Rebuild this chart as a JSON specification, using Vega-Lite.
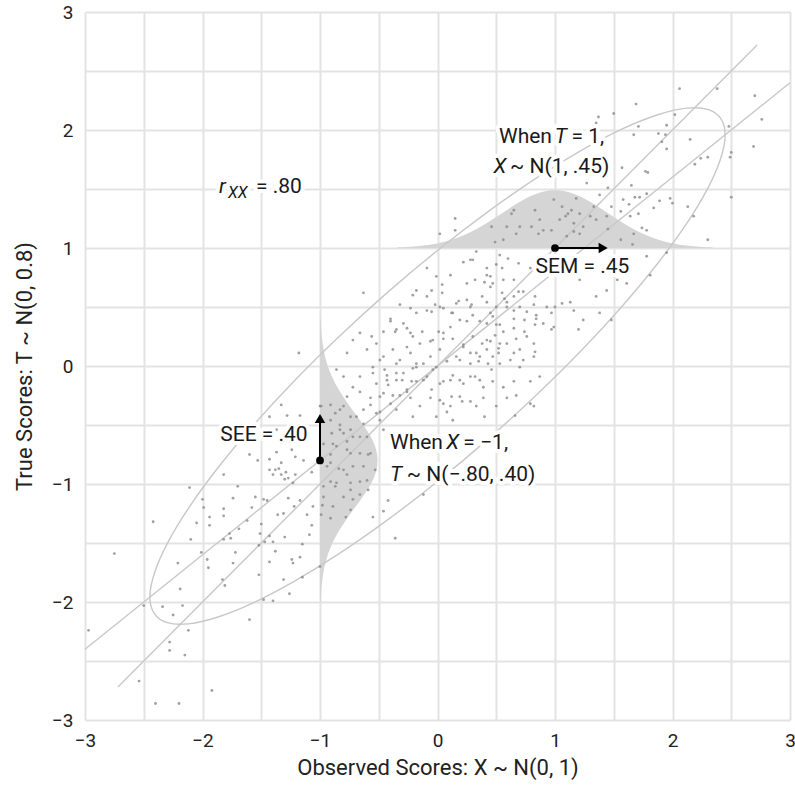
{
"$schema": "https://vega.github.io/schema/vega-lite/v6.json",
"width": 705, "height": 708,
"autosize": {"type": "none"},
"padding": {"left": 85, "top": 12, "right": 5, "bottom": 65},
"config": {
  "view": {"stroke": null},
  "font": "Roboto",
  "axis": {"domain": false, "ticks": false, "gridColor": "#e3e3e3", "gridWidth": 2, "labelFontSize": 19, "titleFontSize": 22, "labelColor": "#222", "titleColor": "#222", "labelFont": "Roboto", "titleFont": "Roboto", "titleFontWeight": "normal"}
},
"datasets": {
  "hcurve": [{"x":-0.341,"t":1.0054},{"x":-0.229,"t":1.0112},{"x":-0.118,"t":1.0215},{"x":-0.006,"t":1.039},{"x":0.106,"t":1.0663},{"x":0.218,"t":1.106},{"x":0.329,"t":1.1591},{"x":0.441,"t":1.2243},{"x":0.553,"t":1.2972},{"x":0.665,"t":1.3699},{"x":0.776,"t":1.4324},{"x":0.888,"t":1.4749},{"x":1.0,"t":1.49},{"x":1.112,"t":1.4749},{"x":1.224,"t":1.4324},{"x":1.335,"t":1.3699},{"x":1.447,"t":1.2972},{"x":1.559,"t":1.2243},{"x":1.671,"t":1.1591},{"x":1.782,"t":1.106},{"x":1.894,"t":1.0663},{"x":2.006,"t":1.039},{"x":2.118,"t":1.0215},{"x":2.229,"t":1.0112},{"x":2.341,"t":1.0054}],
  "vcurve": [{"t":-2.0,"x":-0.9946},{"t":-1.9,"x":-0.9888},{"t":-1.8,"x":-0.9785},{"t":-1.7,"x":-0.961},{"t":-1.6,"x":-0.9337},{"t":-1.5,"x":-0.894},{"t":-1.4,"x":-0.8409},{"t":-1.3,"x":-0.7757},{"t":-1.2,"x":-0.7028},{"t":-1.1,"x":-0.6301},{"t":-1.0,"x":-0.5676},{"t":-0.9,"x":-0.5251},{"t":-0.8,"x":-0.51},{"t":-0.7,"x":-0.5251},{"t":-0.6,"x":-0.5676},{"t":-0.5,"x":-0.6301},{"t":-0.4,"x":-0.7028},{"t":-0.3,"x":-0.7757},{"t":-0.2,"x":-0.8409},{"t":-0.1,"x":-0.894},{"t":0.0,"x":-0.9337},{"t":0.1,"x":-0.961},{"t":0.2,"x":-0.9785},{"t":0.3,"x":-0.9888},{"t":0.4,"x":-0.9946}],
  "lines": [{"line":"a","x":-3,"t":-2.4},{"line":"a","x":3,"t":2.4},{"line":"b","x":-2.72,"t":-2.72},{"line":"b","x":2.72,"t":2.72}],
  "ellipse": [{"i":0,"x":2.448,"t":1.958},{"i":1,"x":2.41,"t":2.098},{"i":2,"x":2.3,"t":2.175},{"i":3,"x":2.12,"t":2.185},{"i":4,"x":1.875,"t":2.129},{"i":5,"x":1.573,"t":2.009},{"i":6,"x":1.224,"t":1.827},{"i":7,"x":0.837,"t":1.59},{"i":8,"x":0.425,"t":1.304},{"i":9,"x":0,"t":0.979},{"i":10,"x":-0.425,"t":0.624},{"i":11,"x":-0.837,"t":0.25},{"i":12,"x":-1.224,"t":-0.131},{"i":13,"x":-1.573,"t":-0.509},{"i":14,"x":-1.875,"t":-0.871},{"i":15,"x":-2.12,"t":-1.206},{"i":16,"x":-2.3,"t":-1.505},{"i":17,"x":-2.41,"t":-1.758},{"i":18,"x":-2.448,"t":-1.958},{"i":19,"x":-2.41,"t":-2.098},{"i":20,"x":-2.3,"t":-2.175},{"i":21,"x":-2.12,"t":-2.185},{"i":22,"x":-1.875,"t":-2.129},{"i":23,"x":-1.573,"t":-2.009},{"i":24,"x":-1.224,"t":-1.827},{"i":25,"x":-0.837,"t":-1.59},{"i":26,"x":-0.425,"t":-1.304},{"i":27,"x":0,"t":-0.979},{"i":28,"x":0.425,"t":-0.624},{"i":29,"x":0.837,"t":-0.25},{"i":30,"x":1.224,"t":0.131},{"i":31,"x":1.573,"t":0.509},{"i":32,"x":1.875,"t":0.871},{"i":33,"x":2.12,"t":1.206},{"i":34,"x":2.3,"t":1.505},{"i":35,"x":2.41,"t":1.758}],
  "pts": [
{"x":-1.33,"t":-0.33},{"x":-1.28,"t":-0.42},{"x":-1.43,"t":-0.43},{"x":-1.17,"t":-0.42},{"x":-1.6,"t":-0.75},{"x":-1.53,"t":-0.8},{"x":-1.43,"t":-0.79},{"x":-1.37,"t":-0.73},{"x":-1.33,"t":-0.82},{"x":-1.24,"t":-0.71},{"x":-1.14,"t":-0.8},{"x":-1.21,"t":-0.77},{"x":-1.43,"t":-0.88},{"x":-1.38,"t":-0.88},{"x":-1.35,"t":-0.87},{"x":-1.29,"t":-0.9},{"x":-1.4,"t":-0.92},{"x":-1.33,"t":-0.92},{"x":-1.3,"t":-0.96},{"x":-1.21,"t":-0.92},{"x":-1.27,"t":-0.95},{"x":-2.11,"t":-1.03},{"x":-1.82,"t":-0.92},{"x":-1.7,"t":-1.02},{"x":-1.23,"t":-0.99},{"x":-1.07,"t":-0.9},{"x":-1.48,"t":-1.13},{"x":-1.45,"t":-1.14},{"x":-1.55,"t":-1.11},{"x":-1.74,"t":-1.12},{"x":-2.0,"t":-1.13},{"x":-1.99,"t":-1.2},{"x":-1.82,"t":-1.21},{"x":-1.58,"t":-1.2},{"x":-1.27,"t":-1.12},{"x":-1.22,"t":-1.19},{"x":-1.17,"t":-1.14},{"x":-1.06,"t":-1.19},{"x":-1.36,"t":-1.26},{"x":-1.31,"t":-1.25},{"x":-1.11,"t":-1.26},{"x":-1.62,"t":-1.31},{"x":-1.82,"t":-1.27},{"x":-2.42,"t":-1.32},{"x":-2.05,"t":-1.33},{"x":-1.94,"t":-1.35},{"x":-1.69,"t":-1.38},{"x":-1.5,"t":-1.34},{"x":-1.43,"t":-1.44},{"x":-1.3,"t":-1.45},{"x":-1.07,"t":-1.35},{"x":-1.09,"t":-1.43},{"x":-2.1,"t":-1.47},{"x":-1.76,"t":-1.46},{"x":-1.82,"t":-1.47},{"x":-1.52,"t":-1.52},{"x":-1.47,"t":-1.49},{"x":-1.15,"t":-1.51},{"x":-2.01,"t":-1.58},{"x":-1.72,"t":-1.58},{"x":-1.38,"t":-1.57},{"x":-1.43,"t":-1.66},{"x":-1.24,"t":-1.64},{"x":-1.23,"t":-1.67},{"x":-2.21,"t":-1.67},{"x":-1.95,"t":-1.71},{"x":-1.52,"t":-1.77},{"x":-1.15,"t":-1.79},{"x":-1.83,"t":-1.81},{"x":-1.81,"t":-1.86},{"x":-2.19,"t":-1.89},{"x":-1.31,"t":-1.81},{"x":-1.26,"t":-1.93},{"x":-1.48,"t":-1.98},{"x":-1.4,"t":-1.99},{"x":-2.34,"t":-2.04},{"x":-2.17,"t":-2.03},{"x":-2.25,"t":-2.11},{"x":-1.6,"t":-2.15},{"x":-2.12,"t":-2.24},{"x":-2.28,"t":-2.34},{"x":-2.5,"t":-2.03},{"x":-1.0,"t":-1.7},
{"x":-0.99,"t":-0.34},{"x":-0.91,"t":-0.33},{"x":-0.87,"t":-0.4},{"x":-0.8,"t":-0.34},{"x":-0.91,"t":-0.46},{"x":-0.83,"t":-0.5},{"x":-0.74,"t":-0.43},{"x":-0.63,"t":-0.37},{"x":-0.57,"t":-0.33},{"x":-0.9,"t":-0.57},{"x":-0.8,"t":-0.57},{"x":-0.97,"t":-0.66},{"x":-0.86,"t":-0.68},{"x":-0.77,"t":-0.64},{"x":-0.66,"t":-0.6},{"x":-0.91,"t":-0.75},{"x":-0.74,"t":-0.74},{"x":-0.59,"t":-0.75},{"x":-0.94,"t":-0.85},{"x":-0.84,"t":-0.87},{"x":-0.77,"t":-0.92},{"x":-0.63,"t":-0.85},{"x":-0.53,"t":-0.88},{"x":-0.91,"t":-0.98},{"x":-0.87,"t":-1.02},{"x":-0.74,"t":-0.99},{"x":-0.66,"t":-0.98},{"x":-0.59,"t":-1.05},{"x":-0.97,"t":-1.11},{"x":-0.8,"t":-1.11},{"x":-0.72,"t":-1.13},{"x":-0.98,"t":-1.18},{"x":-0.91,"t":-1.29},{"x":-0.78,"t":-1.28},{"x":-0.74,"t":-1.22},{"x":-0.99,"t":-1.26},{"x":-0.89,"t":-1.19},{"x":-0.66,"t":-1.09},
{"x":0.33,"t":0.97},{"x":0.53,"t":0.94},{"x":0.6,"t":0.91},{"x":0.5,"t":0.86},{"x":0.3,"t":0.9},{"x":0.22,"t":0.88},{"x":-0.09,"t":0.83},{"x":0.42,"t":0.83},{"x":0.69,"t":0.87},{"x":0.79,"t":0.83},{"x":0.45,"t":0.76},{"x":0.56,"t":0.73},{"x":0.65,"t":0.73},{"x":0.11,"t":0.77},{"x":-0.01,"t":0.76},{"x":0.32,"t":0.73},{"x":0.25,"t":0.7},{"x":0.47,"t":0.7},{"x":-0.18,"t":0.64},{"x":-0.09,"t":0.59},{"x":0.04,"t":0.62},{"x":0.16,"t":0.53},{"x":0.25,"t":0.56},{"x":0.29,"t":0.52},{"x":0.38,"t":0.59},{"x":0.42,"t":0.54},{"x":0.55,"t":0.62},{"x":0.59,"t":0.54},{"x":0.65,"t":0.59},{"x":0.7,"t":0.5},{"x":0.82,"t":0.52},{"x":-0.32,"t":0.52},{"x":-0.23,"t":0.49},{"x":-0.4,"t":0.4},{"x":-0.63,"t":0.62},{"x":-0.05,"t":0.46},{"x":0.05,"t":0.49},{"x":0.12,"t":0.45},{"x":0.19,"t":0.39},{"x":0.3,"t":0.43},{"x":0.36,"t":0.38},{"x":0.47,"t":0.42},{"x":0.53,"t":0.35},{"x":0.65,"t":0.4},{"x":0.74,"t":0.39},{"x":0.84,"t":0.4},{"x":-0.66,"t":0.28},{"x":-0.56,"t":0.25},{"x":-0.72,"t":0.22},{"x":-0.46,"t":0.29},{"x":-0.35,"t":0.31},{"x":-0.26,"t":0.32},{"x":-0.21,"t":0.25},{"x":-0.13,"t":0.29},{"x":-0.04,"t":0.22},{"x":0.05,"t":0.28},{"x":0.13,"t":0.23},{"x":0.22,"t":0.18},{"x":0.3,"t":0.25},{"x":0.42,"t":0.22},{"x":0.49,"t":0.26},{"x":0.59,"t":0.19},{"x":0.67,"t":0.23},{"x":0.82,"t":0.19},{"x":-0.77,"t":0.11},{"x":-0.6,"t":0.14},{"x":-0.49,"t":0.05},{"x":-0.38,"t":0.14},{"x":-0.32,"t":0.05},{"x":-0.23,"t":0.11},{"x":-0.18,"t":0.02},{"x":-0.06,"t":0.08},{"x":0.02,"t":0.14},{"x":0.08,"t":0.04},{"x":0.16,"t":0.08},{"x":0.28,"t":0.11},{"x":0.35,"t":0.04},{"x":0.42,"t":0.14},{"x":0.47,"t":0.08},{"x":0.53,"t":0.02},{"x":0.62,"t":0.05},{"x":0.7,"t":-0.01},{"x":0.82,"t":0.08},{"x":-0.86,"t":-0.03},{"x":-0.8,"t":-0.09},{"x":-0.72,"t":-0.18},{"x":-0.66,"t":-0.09},{"x":-0.55,"t":-0.06},{"x":-0.43,"t":-0.08},{"x":-0.35,"t":-0.12},{"x":-0.29,"t":-0.06},{"x":-0.18,"t":-0.13},{"x":-0.09,"t":-0.09},{"x":-0.05,"t":-0.2},{"x":0.05,"t":-0.13},{"x":0.13,"t":-0.08},{"x":0.22,"t":-0.15},{"x":0.32,"t":-0.09},{"x":0.39,"t":-0.18},{"x":0.47,"t":-0.13},{"x":0.56,"t":-0.18},{"x":0.65,"t":-0.13},{"x":0.79,"t":-0.13},{"x":0.87,"t":-0.09},{"x":-0.77,"t":-0.26},{"x":-0.66,"t":-0.22},{"x":-0.57,"t":-0.27},{"x":-0.46,"t":-0.23},{"x":-0.4,"t":-0.32},{"x":-0.32,"t":-0.25},{"x":-0.23,"t":-0.27},{"x":-0.15,"t":-0.34},{"x":0.02,"t":-0.29},{"x":0.11,"t":-0.34},{"x":0.19,"t":-0.26},{"x":0.28,"t":-0.3},{"x":0.39,"t":-0.27},{"x":0.5,"t":-0.34},{"x":0.59,"t":-0.27},{"x":0.67,"t":-0.25},{"x":0.82,"t":-0.34},{"x":-0.83,"t":-0.37},{"x":-0.52,"t":-0.4},{"x":0.08,"t":-0.39},{"x":0.4,"t":-0.43},{"x":-1.0,"t":-0.34},{"x":-0.63,"t":-0.49},{"x":-0.49,"t":-0.46},{"x":-0.83,"t":-0.54},{"x":-0.72,"t":-0.6},{"x":-0.6,"t":-0.6},{"x":-0.89,"t":-0.66},{"x":-0.77,"t":-0.71},{"x":-0.66,"t":-0.74},{"x":-0.57,"t":-0.74},{"x":-0.91,"t":-0.82},{"x":-0.8,"t":-0.88},{"x":-0.72,"t":-0.85},{"x":-0.6,"t":-0.97},{"x":-0.86,"t":-0.99},{"x":-0.74,"t":-1.05},{"x":-0.97,"t":-1.02},{"x":-0.46,"t":-0.54},
{"x":1.37,"t":2.11},{"x":1.35,"t":2.06},{"x":1.27,"t":1.55},{"x":1.38,"t":1.45},{"x":1.33,"t":1.35},{"x":1.21,"t":1.29},{"x":1.3,"t":1.27},{"x":1.35,"t":1.24},{"x":1.24,"t":1.18},{"x":1.16,"t":1.21},{"x":1.21,"t":1.12},{"x":1.11,"t":1.29},{"x":1.04,"t":1.24},{"x":1.16,"t":1.14},{"x":0.63,"t":1.29},{"x":0.7,"t":1.18},{"x":0.8,"t":1.18},{"x":0.87,"t":1.24},{"x":0.9,"t":1.15},{"x":0.86,"t":1.12},{"x":0.97,"t":1.15},{"x":1.09,"t":1.27},{"x":1.06,"t":1.35},{"x":0.99,"t":1.41},{"x":0.83,"t":1.32},{"x":0.67,"t":1.12},{"x":0.56,"t":1.07},{"x":0.49,"t":1.05},{"x":0.46,"t":1.18},{"x":1.14,"t":1.32},{"x":1.18,"t":1.42},{"x":1.1,"t":1.1},{"x":1.04,"t":0.81},{"x":1.13,"t":0.79},{"x":1.21,"t":0.73},{"x":1.3,"t":0.84},{"x":1.35,"t":0.59},{"x":1.44,"t":0.64},{"x":1.53,"t":0.73},{"x":1.61,"t":0.7},{"x":1.06,"t":0.53},{"x":1.16,"t":0.47},{"x":0.99,"t":0.33},{"x":1.24,"t":0.39},{"x":1.38,"t":0.45},{"x":0.93,"t":0.84},
{"x":2.06,"t":2.35},{"x":2.38,"t":2.35},{"x":2.7,"t":2.29},{"x":2.76,"t":2.09},{"x":1.69,"t":2.22},{"x":1.5,"t":2.14},{"x":2.02,"t":2.13},{"x":1.95,"t":2.04},{"x":1.71,"t":2.03},{"x":1.88,"t":1.97},{"x":1.67,"t":1.96},{"x":1.94,"t":1.96},{"x":1.91,"t":1.9},{"x":1.95,"t":1.84},{"x":2.15,"t":1.92},{"x":2.48,"t":2.03},{"x":2.69,"t":1.86},{"x":2.5,"t":1.81},{"x":2.49,"t":1.77},{"x":2.24,"t":1.76},{"x":2.3,"t":1.77},{"x":2.19,"t":1.71},{"x":1.57,"t":1.68},{"x":1.77,"t":1.65},{"x":1.79,"t":1.64},{"x":1.65,"t":1.53},{"x":1.45,"t":1.51},{"x":1.78,"t":1.46},{"x":1.68,"t":1.43},{"x":1.72,"t":1.43},{"x":1.58,"t":1.41},{"x":1.89,"t":1.4},{"x":1.98,"t":1.42},{"x":2.0,"t":1.38},{"x":1.63,"t":1.37},{"x":1.84,"t":1.34},{"x":2.13,"t":1.35},{"x":2.5,"t":1.43},{"x":1.48,"t":1.35},{"x":1.56,"t":1.31},{"x":1.44,"t":1.27},{"x":1.64,"t":1.27},{"x":1.71,"t":1.29},{"x":2.18,"t":1.27},{"x":1.45,"t":1.16},{"x":1.74,"t":1.17},{"x":1.78,"t":1.15},{"x":1.67,"t":1.12},{"x":1.56,"t":1.07},{"x":1.66,"t":1.03},{"x":2.3,"t":1.07},{"x":1.95,"t":0.96},
{"x":0.15,"t":1.25},{"x":0.02,"t":1.12},{"x":0.15,"t":1.15},{"x":0.59,"t":1.18},{"x":0.65,"t":1.32},{"x":-0.36,"t":-1.46},{"x":-0.46,"t":-1.23},{"x":-0.55,"t":-1.28},{"x":-0.42,"t":-1.14},{"x":-0.12,"t":-1.09},{"x":1.2,"t":0.31},{"x":1.78,"t":0.93},{"x":1.81,"t":0.77},{"x":1.48,"t":0.39},{"x":0.79,"t":-0.32},{"x":0.66,"t":-0.42},{"x":0.13,"t":-0.46},{"x":0.33,"t":-0.34},
{"x":-2.97,"t":-2.24},{"x":-2.75,"t":-1.59},{"x":-2.54,"t":-2.67},{"x":-2.4,"t":-2.86},{"x":-2.2,"t":-2.86},{"x":-1.92,"t":-2.75},{"x":-2.28,"t":-2.41},{"x":-2.15,"t":-2.45},{"x":-1.18,"t":0.11},
{"x":-0.21,"t":0.6},{"x":-0.05,"t":0.64},{"x":0.04,"t":0.69},{"x":0.28,"t":0.9},{"x":0.4,"t":0.71},{"x":0.42,"t":0.77},{"x":0.45,"t":0.67},{"x":0.55,"t":0.83},{"x":0.57,"t":0.57},{"x":0.69,"t":0.63},{"x":0.73,"t":0.63},{"x":0.83,"t":0.59},{"x":0.93,"t":0.5},{"x":1.0,"t":0.5},{"x":1.13,"t":0.54},{"x":0.97,"t":0.45},{"x":0.84,"t":0.43},{"x":0.76,"t":0.46},{"x":0.65,"t":0.47},{"x":0.59,"t":0.5},{"x":0.5,"t":0.5},{"x":0.45,"t":0.45},{"x":0.28,"t":0.5},{"x":0.18,"t":0.55},{"x":0.13,"t":0.45},{"x":0.02,"t":0.5},{"x":-0.02,"t":0.52},{"x":-0.09,"t":0.47},{"x":-0.18,"t":0.45},{"x":-0.29,"t":0.36},{"x":-0.4,"t":0.38},{"x":-0.36,"t":0.29},{"x":-0.23,"t":0.28},{"x":0.01,"t":0.29},{"x":0.11,"t":0.33},{"x":0.25,"t":0.38},{"x":0.42,"t":0.36},{"x":0.5,"t":0.35},{"x":0.56,"t":0.29},{"x":0.65,"t":0.32},{"x":0.74,"t":0.29},{"x":0.83,"t":0.35},{"x":0.9,"t":0.36},{"x":0.97,"t":0.31},{"x":-0.52,"t":0.19},{"x":-0.46,"t":0.08},{"x":-0.26,"t":0.16},{"x":-0.15,"t":0.19},{"x":-0.06,"t":0.21},{"x":0.05,"t":0.23},{"x":0.22,"t":0.16},{"x":0.38,"t":0.19},{"x":0.45,"t":0.21},{"x":0.52,"t":0.15},{"x":0.7,"t":0.14},{"x":0.76,"t":0.25},{"x":0.83,"t":0.12},{"x":-0.55,"t":-0.01},{"x":-0.45,"t":-0.03},{"x":-0.35,"t":0.02},{"x":-0.21,"t":-0.02},{"x":-0.12,"t":0.02},{"x":-0.01,"t":-0.01},{"x":0.28,"t":0.02},{"x":0.36,"t":0.08},{"x":0.43,"t":0.02},{"x":0.52,"t":0.11},{"x":-0.52,"t":-0.15},{"x":-0.42,"t":-0.16},{"x":-0.3,"t":-0.12},{"x":-0.22,"t":-0.13},{"x":0.02,"t":-0.15},{"x":0.11,"t":-0.12},{"x":0.19,"t":-0.12},{"x":0.28,"t":-0.09},{"x":0.36,"t":-0.12},{"x":0.46,"t":-0.03},{"x":-0.49,"t":-0.26},{"x":-0.38,"t":-0.25},{"x":-0.26,"t":-0.22},{"x":-0.06,"t":-0.27},{"x":0.05,"t":-0.32},{"x":0.12,"t":-0.26},{"x":0.21,"t":-0.3},{"x":-0.49,"t":-0.39},{"x":-0.35,"t":-0.37},{"x":-0.21,"t":-0.43},{"x":-0.01,"t":-0.43},
{"x":-1.37,"t":-0.54},{"x":-1.17,"t":-0.6},{"x":-1.31,"t":-0.63},{"x":-0.74,"t":-0.54},{"x":-0.69,"t":-0.43},{"x":-0.43,"t":-0.12},{"x":-0.35,"t":-0.06},{"x":-0.26,"t":-0.2},{"x":-0.18,"t":-0.01},{"x":-0.12,"t":-0.12},{"x":-0.04,"t":-0.03},{"x":0.19,"t":0.05},{"x":0.33,"t":0.11},{"x":0.53,"t":0.19},{"x":0.65,"t":0.11},{"x":0.73,"t":0.05},
{"x":-1.94,"t":-1.28},{"x":-1.77,"t":-1.42},{"x":-1.51,"t":-1.42},{"x":-1.4,"t":-1.49},{"x":-1.17,"t":-1.62},{"x":-1.74,"t":-1.67},{"x":-1.96,"t":-1.64}
  ],
  "arrowsH": [{"x":1,"x2":1.4,"t":1}],
  "arrowsV": [{"x":-1,"t":-0.8,"t2":-0.44}],
  "headR": [{"x":1.41,"t":1}],
  "headU": [{"x":-1,"t":-0.445}],
  "dots": [{"x":1,"t":1},{"x":-1,"t":-0.8}],
  "txtLeft": [{"x":-1.545,"t":1.52,"label":"= .80"},{"x":1.14,"t":1.94,"label":"= 1,"},{"x":0.617,"t":1.69,"label":"~ N(1, .45)"},{"x":-0.404,"t":-0.655,"label":"When"},{"x":0.22,"t":-0.655,"label":"= −1,"},{"x":-0.262,"t":-0.924,"label":"~ N(−.80, .40)"}],
  "txtRight": [{"x":0.974,"t":1.94,"label":"When"}],
  "txtCenter": [{"x":1.234,"t":0.842,"label":"SEM = .45"},{"x":-1.477,"t":-0.585,"label":"SEE = .40"}],
  "txtItalC": [{"x":1.05,"t":1.94,"label":"T"},{"x":0.532,"t":1.69,"label":"X"},{"x":0.128,"t":-0.655,"label":"X"}],
  "txtItalL": [{"x":-1.86,"t":1.52,"label":"r"},{"x":-0.404,"t":-0.924,"label":"T"}],
  "txtSub": [{"x":-1.783,"t":1.47,"label":"XX"}]
},
"encoding": {
  "x": {"field": "x", "type": "quantitative", "scale": {"domain": [-3, 3], "nice": false, "zero": false},
        "axis": {"title": "Observed Scores: X ~ N(0, 1)", "values": [-3,-2.5,-2,-1.5,-1,-0.5,0,0.5,1,1.5,2,2.5,3], "format": "~g", "labelExpr": "datum.value % 1 === 0 ? datum.label : ''", "labelPadding": 11, "titlePadding": 7, "labelFlush": false}},
  "y": {"field": "t", "type": "quantitative", "scale": {"domain": [-3, 3], "nice": false, "zero": false},
        "axis": {"title": "True Scores: T ~ N(0, 0.8)", "values": [-3,-2.5,-2,-1.5,-1,-0.5,0,0.5,1,1.5,2,2.5,3], "format": "~g", "labelExpr": "datum.value % 1 === 0 ? datum.label : ''", "labelPadding": 12, "titlePadding": 15, "labelFlush": false}}
},
"layer": [
  {"data": {"name": "hcurve"}, "mark": {"type": "area", "color": "#d5d5d5", "interpolate": "monotone"}, "encoding": {"y2": {"datum": 1}}},
  {"data": {"name": "vcurve"}, "mark": {"type": "area", "orient": "horizontal", "color": "#d5d5d5", "interpolate": "monotone"}, "encoding": {"x2": {"datum": -1}}},
  {"data": {"name": "lines"}, "mark": {"type": "line", "color": "#c8c8c8", "strokeWidth": 1.4}, "encoding": {"detail": {"field": "line"}}},
  {"data": {"name": "ellipse"}, "mark": {"type": "line", "color": "#c8c8c8", "strokeWidth": 1.4, "interpolate": "cardinal-closed"}, "encoding": {"order": {"field": "i", "type": "quantitative"}}},
  {"data": {"name": "pts"}, "mark": {"type": "circle", "color": "#8a8a8a", "size": 8, "opacity": 0.8}, "encoding": {}},
  {"data": {"name": "arrowsH"}, "mark": {"type": "rule", "color": "black", "strokeWidth": 2}, "encoding": {"x2": {"field": "x2"}}},
  {"data": {"name": "arrowsV"}, "mark": {"type": "rule", "color": "black", "strokeWidth": 2}, "encoding": {"y2": {"field": "t2"}}},
  {"data": {"name": "headR"}, "mark": {"type": "point", "shape": "triangle-right", "filled": true, "color": "black", "size": 110, "opacity": 1}, "encoding": {}},
  {"data": {"name": "headU"}, "mark": {"type": "point", "shape": "triangle-up", "filled": true, "color": "black", "size": 110, "opacity": 1}, "encoding": {}},
  {"data": {"name": "dots"}, "mark": {"type": "circle", "color": "black", "size": 60, "opacity": 1}, "encoding": {}},
  {"data": {"name": "txtLeft"}, "mark": {"type": "text", "align": "left", "baseline": "middle", "fontSize": 21, "fill": "white", "stroke": "white", "strokeWidth": 8, "strokeJoin": "round"}, "encoding": {"text": {"field": "label"}}},
  {"data": {"name": "txtRight"}, "mark": {"type": "text", "align": "right", "baseline": "middle", "fontSize": 21, "fill": "white", "stroke": "white", "strokeWidth": 8, "strokeJoin": "round"}, "encoding": {"text": {"field": "label"}}},
  {"data": {"name": "txtCenter"}, "mark": {"type": "text", "align": "center", "baseline": "middle", "fontSize": 21, "fill": "white", "stroke": "white", "strokeWidth": 8, "strokeJoin": "round"}, "encoding": {"text": {"field": "label"}}},
  {"data": {"name": "txtItalC"}, "mark": {"type": "text", "align": "center", "baseline": "middle", "fontSize": 21, "fontStyle": "italic", "fill": "white", "stroke": "white", "strokeWidth": 8, "strokeJoin": "round"}, "encoding": {"text": {"field": "label"}}},
  {"data": {"name": "txtItalL"}, "mark": {"type": "text", "align": "left", "baseline": "middle", "fontSize": 21, "fontStyle": "italic", "fill": "white", "stroke": "white", "strokeWidth": 8, "strokeJoin": "round"}, "encoding": {"text": {"field": "label"}}},
  {"data": {"name": "txtSub"}, "mark": {"type": "text", "align": "left", "baseline": "middle", "fontSize": 16, "fontStyle": "italic", "fill": "white", "stroke": "white", "strokeWidth": 8, "strokeJoin": "round"}, "encoding": {"text": {"field": "label"}}},
  {"data": {"name": "txtLeft"}, "mark": {"type": "text", "align": "left", "baseline": "middle", "fontSize": 21, "color": "#1a1a1a"}, "encoding": {"text": {"field": "label"}}},
  {"data": {"name": "txtRight"}, "mark": {"type": "text", "align": "right", "baseline": "middle", "fontSize": 21, "color": "#1a1a1a"}, "encoding": {"text": {"field": "label"}}},
  {"data": {"name": "txtCenter"}, "mark": {"type": "text", "align": "center", "baseline": "middle", "fontSize": 21, "color": "#1a1a1a"}, "encoding": {"text": {"field": "label"}}},
  {"data": {"name": "txtItalC"}, "mark": {"type": "text", "align": "center", "baseline": "middle", "fontSize": 21, "fontStyle": "italic", "color": "#1a1a1a"}, "encoding": {"text": {"field": "label"}}},
  {"data": {"name": "txtItalL"}, "mark": {"type": "text", "align": "left", "baseline": "middle", "fontSize": 21, "fontStyle": "italic", "color": "#1a1a1a"}, "encoding": {"text": {"field": "label"}}},
  {"data": {"name": "txtSub"}, "mark": {"type": "text", "align": "left", "baseline": "middle", "fontSize": 16, "fontStyle": "italic", "color": "#1a1a1a"}, "encoding": {"text": {"field": "label"}}}
]
}
